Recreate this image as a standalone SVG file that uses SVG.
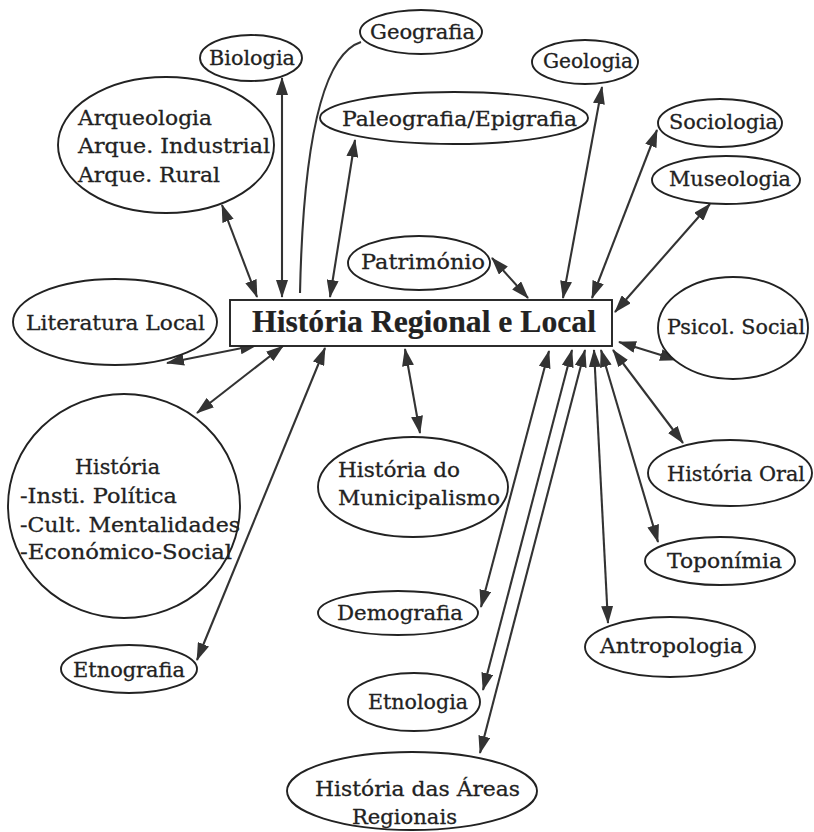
<svg xmlns="http://www.w3.org/2000/svg" width="814" height="832" viewBox="0 0 814 832">
<style>
.n ellipse{fill:#fff;stroke:#222;stroke-width:1.9}
text{font-family:"DejaVu Serif","Liberation Serif",serif;font-size:21px;fill:#222;stroke:#222;stroke-width:0.3}
.t{font-family:"Liberation Serif","DejaVu Serif",serif;font-size:31px;font-weight:bold;stroke-width:0.2}
.c line,.c path{stroke:#333;stroke-width:2.1;fill:none}
.c line{marker-start:url(#ah);marker-end:url(#ah)}
</style>
<defs>
<marker id="ah" viewBox="0 0 18 12" refX="17" refY="6" markerWidth="18" markerHeight="12" markerUnits="userSpaceOnUse" orient="auto-start-reverse">
<path d="M0,0 L18,6 L0,12 Z" fill="#333"/>
</marker>
</defs>
<rect width="814" height="832" fill="#fff"/>
<g class="c" id="connectors">
<line x1="222" y1="205" x2="257" y2="297"/>
<line x1="282" y1="78" x2="282" y2="297"/>
<path d="M361,42 Q305,60 300,293"/>
<line x1="355" y1="140" x2="330" y2="297"/>
<line x1="492" y1="258" x2="528" y2="298"/>
<line x1="602" y1="87" x2="563" y2="298"/>
<line x1="657" y1="130" x2="592" y2="298"/>
<line x1="710" y1="204" x2="615" y2="312"/>
<line x1="167" y1="363" x2="257" y2="345"/>
<line x1="197" y1="413" x2="283" y2="346"/>
<line x1="197" y1="660" x2="325" y2="348"/>
<line x1="405" y1="349" x2="420" y2="433"/>
<line x1="549" y1="351" x2="481" y2="607"/>
<line x1="572" y1="350" x2="483" y2="690"/>
<line x1="585" y1="350" x2="480" y2="753"/>
<line x1="594" y1="350" x2="608" y2="623"/>
<line x1="601" y1="350" x2="658" y2="542"/>
<line x1="613" y1="350" x2="683" y2="443"/>
<line x1="619" y1="342" x2="677" y2="360"/>
</g>
<g class="n" id="center">
<rect x="230" y="300" width="382" height="46" fill="#fff" stroke="#222" stroke-width="1.9"/>
<text class="t" x="252" y="332" textLength="344" lengthAdjust="spacingAndGlyphs">História Regional e Local</text>
</g>
<g class="n" id="biologia"><ellipse cx="251" cy="58" rx="51" ry="23"/><text x="209" y="65" textLength="86" lengthAdjust="spacingAndGlyphs">Biologia</text></g>
<g class="n" id="geografia"><ellipse cx="421" cy="32" rx="61" ry="22"/><text x="370" y="39" textLength="105" lengthAdjust="spacingAndGlyphs">Geografia</text></g>
<g class="n" id="arqueologia"><ellipse cx="166" cy="145" rx="108" ry="68"/>
<text x="78" y="125" textLength="134" lengthAdjust="spacingAndGlyphs">Arqueologia</text>
<text x="78" y="153" textLength="192" lengthAdjust="spacingAndGlyphs">Arque. Industrial</text>
<text x="78" y="182" textLength="142" lengthAdjust="spacingAndGlyphs">Arque. Rural</text></g>
<g class="n" id="paleografia"><ellipse cx="454" cy="118" rx="134" ry="26"/><text x="342" y="126" textLength="235" lengthAdjust="spacingAndGlyphs">Paleografia/Epigrafia</text></g>
<g class="n" id="geologia"><ellipse cx="585" cy="62" rx="53" ry="22"/><text x="543" y="68" textLength="90" lengthAdjust="spacingAndGlyphs">Geologia</text></g>
<g class="n" id="sociologia"><ellipse cx="720" cy="123" rx="62" ry="24"/><text x="669" y="129" textLength="109" lengthAdjust="spacingAndGlyphs">Sociologia</text></g>
<g class="n" id="museologia"><ellipse cx="726" cy="180" rx="74" ry="24"/><text x="669" y="186" textLength="122" lengthAdjust="spacingAndGlyphs">Museologia</text></g>
<g class="n" id="patrimonio"><ellipse cx="419" cy="263" rx="71" ry="27"/><text x="361" y="269" textLength="124" lengthAdjust="spacingAndGlyphs">Património</text></g>
<g class="n" id="literatura"><ellipse cx="115" cy="322" rx="102" ry="43"/><text x="26" y="330" textLength="179" lengthAdjust="spacingAndGlyphs">Literatura Local</text></g>
<g class="n" id="psicol"><ellipse cx="733" cy="328" rx="75" ry="51"/><text x="667" y="334" textLength="138" lengthAdjust="spacingAndGlyphs">Psicol. Social</text></g>
<g class="n" id="historia"><ellipse cx="124" cy="506" rx="116" ry="112"/>
<text x="75" y="474" textLength="85" lengthAdjust="spacingAndGlyphs">História</text>
<text x="20" y="503" textLength="157" lengthAdjust="spacingAndGlyphs">-Insti. Política</text>
<text x="20" y="532" textLength="220" lengthAdjust="spacingAndGlyphs">-Cult. Mentalidades</text>
<text x="20" y="559" textLength="212" lengthAdjust="spacingAndGlyphs">-Económico-Social</text></g>
<g class="n" id="municipalismo"><ellipse cx="413" cy="487" rx="95" ry="50"/>
<text x="338" y="477" textLength="122" lengthAdjust="spacingAndGlyphs">História do</text>
<text x="338" y="505" textLength="162" lengthAdjust="spacingAndGlyphs">Municipalismo</text></g>
<g class="n" id="historia-oral"><ellipse cx="730" cy="473" rx="82" ry="33"/><text x="667" y="481" textLength="138" lengthAdjust="spacingAndGlyphs">História Oral</text></g>
<g class="n" id="toponimia"><ellipse cx="720" cy="561" rx="75" ry="24"/><text x="667" y="568" textLength="115" lengthAdjust="spacingAndGlyphs">Toponímia</text></g>
<g class="n" id="demografia"><ellipse cx="398" cy="613" rx="80" ry="22"/><text x="337" y="620" textLength="126" lengthAdjust="spacingAndGlyphs">Demografia</text></g>
<g class="n" id="antropologia"><ellipse cx="670" cy="647" rx="85" ry="30"/><text x="600" y="653" textLength="143" lengthAdjust="spacingAndGlyphs">Antropologia</text></g>
<g class="n" id="etnografia"><ellipse cx="129" cy="669" rx="68" ry="24"/><text x="73" y="677" textLength="112" lengthAdjust="spacingAndGlyphs">Etnografia</text></g>
<g class="n" id="etnologia"><ellipse cx="414" cy="702" rx="66" ry="29"/><text x="368" y="709" textLength="100" lengthAdjust="spacingAndGlyphs">Etnologia</text></g>
<g class="n" id="areas"><ellipse cx="412" cy="791" rx="125" ry="39"/>
<text x="315" y="796" textLength="205" lengthAdjust="spacingAndGlyphs">História das Áreas</text>
<text x="352" y="824" textLength="105" lengthAdjust="spacingAndGlyphs">Regionais</text></g>
</svg>
